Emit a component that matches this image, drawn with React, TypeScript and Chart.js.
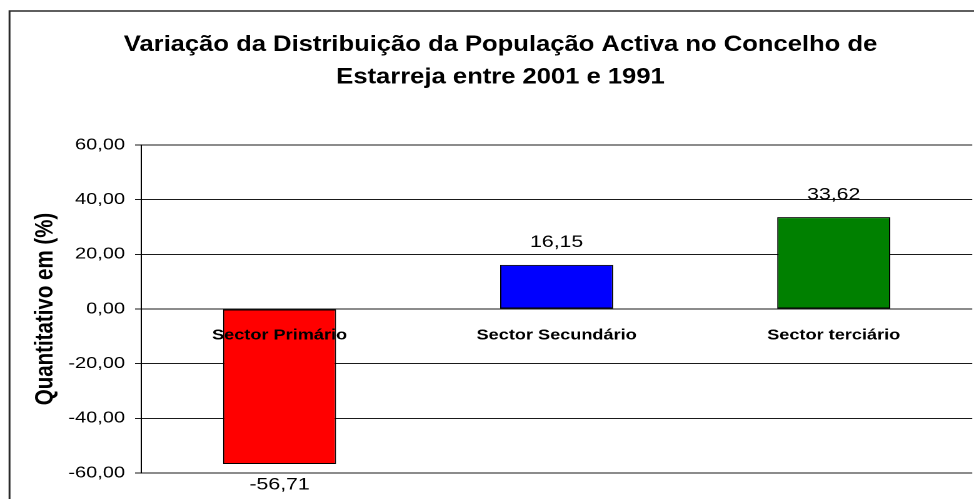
import React, { useEffect, useRef } from 'react';
import { Chart, registerables } from 'chart.js';

Chart.register(...registerables);

// ---- data ----
const TITLE_LINES = [
  'Variação da Distribuição da População Activa no Concelho de',
  'Estarreja entre 2001 e 1991',
];
const CATEGORIES = ['Sector Primário', 'Sector Secundário', 'Sector terciário'];
const VALUES = [-56.71, 16.15, 33.62];
const BAR_COLORS = ['#FF0000', '#0000FF', '#008000'];
const Y_AXIS_TITLE = 'Quantitativo em (%)';
const Y_MIN = -60;
const Y_MAX = 60;
const Y_STEP = 20;

// ---- layout ----
const PHYS_W = 974;
const PHYS_H = 499;
const SX = 1.25; // horizontal stretch of the reference
const W = Math.round(PHYS_W / SX);
const FONT = "'Liberation Sans', Arial, Helvetica, sans-serif";

const fmt = (v: number) => Number(v).toFixed(2).replace('.', ',');

const frame = {
  id: 'frame',
  beforeDraw(chart: any) {
    const { ctx, width, height } = chart;
    ctx.save();
    ctx.fillStyle = '#ffffff';
    ctx.fillRect(0, 0, width, height);
    ctx.strokeStyle = '#2a2a2a';
    ctx.lineWidth = 1.5;
    ctx.strokeRect(7.6, 11, width + 20, height + 20);
    ctx.restore();
  },
};

const titlePlugin = {
  id: 'titleText',
  afterDraw(chart: any) {
    const { ctx } = chart;
    const cx = 400.3;
    const ys = [44.8, 77.6];
    ctx.save();
    ctx.font = `bold 22px ${FONT}`;
    ctx.fillStyle = '#000';
    ctx.textAlign = 'center';
    ctx.textBaseline = 'middle';
    TITLE_LINES.forEach((line, i) => {
      ctx.save();
      ctx.translate(cx, ys[i]);
      ctx.scale(0.93, 1);
      ctx.fillText(line, 0, 0);
      ctx.restore();
    });
    ctx.restore();
  },
};

const valueLabels = {
  id: 'valueLabels',
  afterDatasetsDraw(chart: any) {
    const { ctx } = chart;
    const meta = chart.getDatasetMeta(0);
    ctx.save();
    ctx.font = `17px ${FONT}`;
    ctx.fillStyle = '#000';
    ctx.textAlign = 'center';
    ctx.textBaseline = 'middle';
    meta.data.forEach((bar: any, i: number) => {
      const v = VALUES[i];
      const { x, y } = bar.getProps(['x', 'y'], true);
      const cy = v >= 0 ? y - 22.5 : y + 21;
      ctx.fillText(fmt(v), x, cy);
    });
    ctx.restore();
  },
};

export default function App() {
  const ref = useRef<HTMLCanvasElement | null>(null);

  useEffect(() => {
    document.body.style.margin = '0';
    const canvas = ref.current;
    if (!canvas) return;
    const chart = new Chart(canvas, {
      type: 'bar',
      data: {
        labels: CATEGORIES,
        datasets: [
          {
            data: VALUES,
            backgroundColor: BAR_COLORS,
            borderColor: '#000',
            borderWidth: 1,
            borderSkipped: false,
            barPercentage: 0.408,
            categoryPercentage: 1,
          },
        ],
      },
      options: {
        responsive: false,
        animation: false,
        devicePixelRatio: 2,
        layout: { padding: { left: 23, right: 1.4, top: 145, bottom: 26 } },
        plugins: {
          legend: { display: false },
          tooltip: { enabled: false },
          title: { display: false },
        },
        scales: {
          x: {
            type: 'category',
            position: { y: 0 } as any,
            grid: { display: false, drawTicks: false },
            border: { display: false },
            ticks: {
              z: 1,
              color: '#000',
              font: { family: FONT, size: 14.5, weight: 'bold' },
              padding: 18,
              maxRotation: 0,
              autoSkip: false,
            },
          },
          y: {
            min: Y_MIN,
            max: Y_MAX,
            ticks: {
              stepSize: Y_STEP,
              color: '#000',
              font: { family: FONT, size: 16 },
              padding: 8,
              callback: (v: any) => fmt(v),
            },
            grid: { color: '#1a1a1a', lineWidth: 1, tickLength: 4.8, drawTicks: true },
            border: { display: true, color: '#000', width: 1 },
            title: {
              display: true,
              text: Y_AXIS_TITLE,
              color: '#000',
              font: { family: FONT, size: 20.5, weight: 'bold' },
              padding: { top: 1, bottom: 0 },
            },
            afterFit: (s: any) => {
              s.width = 89.8;
            },
          },
        },
      } as any,
      plugins: [frame, titlePlugin, valueLabels],
    });
    return () => chart.destroy();
  }, []);

  return (
    <canvas
      ref={ref}
      width={W}
      height={PHYS_H}
      style={{ width: `${PHYS_W}px`, height: `${PHYS_H}px`, display: 'block' }}
    />
  );
}
